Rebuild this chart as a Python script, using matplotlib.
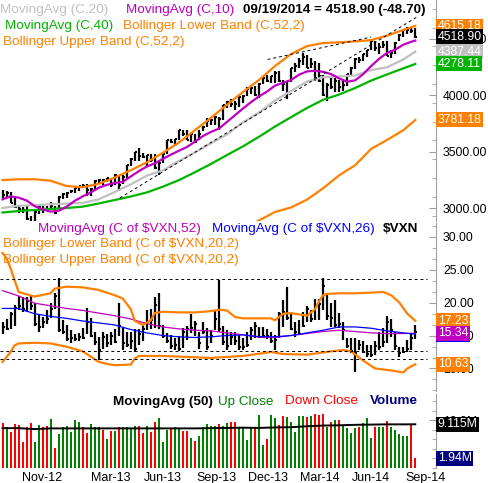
import numpy as np
import pandas as pd
import matplotlib
matplotlib.use('Agg')
import matplotlib.pyplot as plt
import matplotlib.dates as mdates
import matplotlib.transforms as mtransforms
from matplotlib.ticker import FixedLocator, FuncFormatter, NullFormatter

plt.rcParams['font.family'] = ['Liberation Sans', 'DejaVu Sans']

# --------------------------------------------------------------
# Data (weekly bars, Friday dates)
# --------------------------------------------------------------
weeks = pd.date_range('2012-09-28', periods=104, freq='7D')

price_high = [3160, 3150, 3140, 3100, 3020, 3010, 3030, 2930, 2970, 3020, 3020, 3022, 3050, 3020,
              3105, 3130, 3140, 3160, 3180, 3196, 3210, 3210, 3180, 3245, 3260, 3260, 3270, 3270,
              3300, 3290, 3290, 3380, 3440, 3500, 3530, 3490, 3470, 3480, 3480, 3410, 3480, 3600,
              3615, 3615, 3690, 3695, 3690, 3660, 3660, 3690, 3725, 3800, 3790, 3820, 3810, 3915,
              3950, 3970, 3950, 3990, 4000, 4070, 4070, 4080, 4110, 4160, 4180, 4175, 4215, 4220,
              4140, 4130, 4245, 4285, 4330, 4372, 4360, 4330, 4300, 4290, 4180, 4110, 4170, 4150,
              4140, 4140, 4190, 4250, 4330, 4340, 4370, 4400, 4490, 4480, 4460, 4485, 4485, 4400,
              4470, 4540, 4580, 4610, 4600, 4600]
price_low = [3085, 3098, 3040, 3000, 2960, 2960, 2895, 2810, 2860, 2950, 2960, 2970, 2980, 2950,
             2990, 3080, 3090, 3130, 3130, 3150, 3180, 3105, 3110, 3160, 3225, 3200, 3230, 3190,
             3200, 3150, 3210, 3270, 3370, 3420, 3420, 3440, 3370, 3410, 3350, 3290, 3400, 3480,
             3580, 3550, 3600, 3640, 3600, 3590, 3580, 3600, 3680, 3720, 3740, 3740, 3690, 3780,
             3890, 3900, 3870, 3900, 3930, 3990, 4010, 3990, 3980, 4100, 4120, 4110, 4110, 4120,
             4040, 3970, 4120, 4210, 4240, 4270, 4240, 4240, 4130, 4120, 3990, 3946, 4060, 4030,
             4030, 4040, 4080, 4180, 4230, 4290, 4300, 4340, 4400, 4390, 4370, 4420, 4350, 4330,
             4370, 4480, 4520, 4540, 4550, 4510]
price_close = [3116, 3136, 3044, 3005, 2987, 2982, 2904, 2853, 2967, 3010, 2978, 2971, 3021, 2960,
               3101, 3125, 3135, 3150, 3179, 3193, 3192, 3161, 3170, 3244, 3249, 3245, 3268, 3204,
               3294, 3207, 3279, 3378, 3437, 3499, 3459, 3456, 3469, 3423, 3357, 3403, 3479, 3600,
               3587, 3613, 3689, 3660, 3602, 3657, 3590, 3660, 3722, 3774, 3781, 3808, 3791, 3914,
               3943, 3922, 3919, 3985, 3991, 4059, 4062, 4000, 4104, 4156, 4131, 4174, 4197, 4128,
               4104, 4125, 4244, 4263, 4308, 4336, 4245, 4276, 4155, 4127, 3999, 4095, 4076, 4123,
               4071, 4090, 4185, 4243, 4321, 4310, 4368, 4398, 4486, 4416, 4432, 4449, 4352, 4371,
               4465, 4539, 4580, 4583, 4568, 4518.90]
close_before_first = 3180

# price overlays, sampled at week numbers
ma10_wk = list(range(0, 104, 2)) + [103]
ma10 = [3077, 3103, 3092, 3067, 3017, 2987, 2968, 2975, 3012, 3063, 3103, 3137, 3180, 3205,
        3222, 3232, 3280, 3327, 3368, 3396, 3436, 3473, 3508, 3541, 3588, 3638, 3675, 3704,
        3764, 3823, 3883, 3939, 3990, 4033, 4086, 4111, 4136, 4183, 4212, 4218, 4208, 4188,
        4150, 4120, 4133, 4188, 4260, 4325, 4377, 4405, 4449, 4475, 4486]
slow_wk = list(range(0, 104, 4)) + [103]
ma20 = [3000, 3020, 3025, 3033, 3040, 3045, 3077, 3142, 3209, 3287, 3334, 3417, 3492, 3574,
        3653, 3760, 3847, 3955, 4038, 4123, 4160, 4167, 4176, 4224, 4249, 4318, 4387.44]
ma40 = [2960, 2973, 2982, 2991, 3000, 3012, 3040, 3071, 3102, 3138, 3189, 3247, 3317, 3391,
        3470, 3547, 3632, 3723, 3806, 3888, 3960, 4007, 4065, 4131, 4186, 4239, 4278.11]
bb_upper = [3248, 3255, 3255, 3242, 3195, 3184, 3215, 3270, 3335, 3405, 3490, 3580, 3690, 3800,
            3916, 4029, 4136, 4260, 4366, 4437, 4464, 4470, 4478, 4490, 4530, 4580, 4615.18]
bb_lower_wk = [60, 64, 68, 72, 76, 80, 84, 88, 92, 96, 100, 103]
bb_lower = [2810, 2890, 2965, 3005, 3075, 3175, 3290, 3380, 3525, 3605, 3690, 3781.18]

# hand-drawn trend lines (date, value)
trend_low = (['2013-04-21', '2014-09-22'], [3089, 4695])
trend_high = (['2014-01-04', '2014-07-04'], [4318, 4517])

# $VXN weekly high / low / close
vxn_high = [17.0, 17.5, 18.5, 19.6, 21.0, 20.8, 20.8, 21.2, 20.0, 18.2, 17.8, 18.8, 20.0, 21.5,
            23.7, 17.3, 16.6, 15.8, 15.3, 15.4, 16.2, 19.2, 17.6, 15.6, 14.8, 15.5, 15.2, 15.6,
            16.0, 19.9, 16.2, 15.5, 15.6, 16.0, 16.0, 16.6, 18.8, 19.0, 20.9, 21.4, 16.6, 15.4,
            15.1, 14.6, 14.9, 16.1, 16.4, 18.3, 17.2, 15.6, 17.1, 16.1, 15.8, 18.9, 23.4, 16.5,
            15.8, 15.6, 15.6, 15.1, 14.6, 15.6, 16.3, 17.1, 16.3, 16.3, 16.0, 15.6, 15.1, 18.6,
            20.4, 22.4, 18.4, 17.1, 17.3, 18.6, 19.4, 18.9, 20.6, 20.6, 23.7, 21.4, 20.0, 20.4,
            18.4, 17.1, 14.6, 14.6, 14.6, 14.3, 14.1, 13.6, 13.6, 14.1, 15.6, 16.1, 17.9, 17.5,
            15.6, 13.3, 13.3, 14.3, 15.3, 16.6]
vxn_low = [15.3, 15.8, 16.0, 16.5, 18.8, 18.5, 18.6, 18.8, 16.5, 15.6, 16.2, 16.8, 17.6, 19.0,
           15.5, 15.2, 14.2, 13.8, 14.2, 14.2, 14.4, 15.2, 14.8, 13.6, 11.3, 13.0, 13.2, 13.6,
           13.8, 15.0, 12.8, 13.2, 12.9, 12.5, 13.6, 14.1, 15.8, 16.0, 16.2, 16.0, 14.6, 13.8,
           13.0, 12.8, 12.6, 13.1, 14.3, 15.4, 15.0, 13.0, 15.3, 12.8, 13.8, 15.8, 15.5, 13.6,
           12.8, 13.6, 13.6, 12.8, 12.8, 13.3, 14.3, 14.6, 14.6, 14.6, 14.4, 13.9, 12.8, 14.6,
           16.3, 17.3, 15.8, 14.8, 15.1, 16.3, 17.1, 17.1, 17.3, 17.3, 18.9, 17.4, 16.3, 16.3,
           16.1, 14.3, 13.1, 12.3, 9.5, 12.8, 12.3, 11.8, 11.8, 12.0, 12.8, 13.3, 13.8, 14.8,
           12.8, 11.8, 12.3, 12.5, 12.8, 14.5]
vxn_close = [16.3, 16.0, 18.2, 19.2, 19.5, 19.0, 20.2, 19.5, 16.8, 16.3, 17.0, 17.5, 19.0, 21.0,
             15.8, 15.6, 14.5, 14.6, 14.5, 14.8, 14.6, 17.0, 15.0, 14.0, 12.8, 14.8, 13.8, 15.0,
             14.0, 16.4, 13.8, 13.6, 14.2, 13.0, 15.2, 16.0, 17.0, 17.4, 19.6, 16.4, 15.0, 14.2,
             13.4, 13.6, 13.0, 15.6, 16.0, 16.2, 16.8, 13.8, 15.6, 13.2, 15.0, 17.5, 16.0, 14.0,
             13.4, 14.8, 14.2, 13.3, 13.3, 13.6, 15.8, 16.4, 14.8, 15.0, 15.0, 14.2, 14.3, 18.2,
             18.5, 17.6, 16.0, 15.6, 15.3, 16.5, 19.0, 17.5, 19.5, 19.8, 22.5, 17.9, 17.6, 16.6,
             16.8, 15.8, 13.4, 12.6, 12.4, 13.6, 12.5, 12.2, 12.0, 13.4, 13.3, 14.0, 17.0, 15.8,
             13.4, 12.3, 12.5, 13.0, 14.6, 15.6]

vxn_ma52 = [21.8, 21.0, 19.9, 19.5, 19.1, 18.8, 18.4, 18.0, 17.5, 16.8, 16.3, 16.0, 15.8, 15.7,
            15.4, 15.1, 14.8, 14.7, 15.0, 15.3, 15.6, 15.8, 15.6, 15.4, 15.3, 15.3, 15.34]
vxn_ma26 = [19.1, 19.1, 18.3, 17.9, 17.6, 17.2, 16.9, 16.6, 15.9, 15.4, 15.0, 14.8, 14.7, 14.8,
            15.0, 15.1, 14.8, 14.8, 15.0, 15.4, 15.8, 16.3, 16.3, 16.1, 15.7, 15.4, 15.2]
vxn_bbu_wk = [0, 1, 2, 3, 4, 8, 12, 13, 16, 20, 24, 28, 30, 32, 33, 35, 37, 38, 40, 44, 48, 52,
              54, 56, 58, 60, 64, 67, 68, 70, 72, 76, 78, 79, 80, 81, 84, 88, 92, 95, 97, 99,
              101, 103]
vxn_bbu = [27.5, 26.7, 25.2, 23.4, 21.6, 20.9, 21.4, 22.1, 22.4, 22.3, 21.9, 21.1, 20.6, 19.0,
           17.2, 16.6, 17.3, 18.4, 18.6, 18.5, 18.5, 18.7, 18.9, 18.8, 17.8, 17.6, 17.6, 17.6,
           17.3, 18.3, 18.4, 18.0, 19.0, 20.2, 21.1, 21.3, 21.4, 21.4, 21.5, 21.6, 21.1, 20.0,
           18.3, 17.23]
vxn_bbl_wk = [0, 2, 3, 4, 8, 12, 16, 20, 24, 26, 28, 32, 33, 34, 40, 48, 52, 60, 67, 70, 76, 82,
              85, 87, 90, 93, 97, 99, 100, 101, 103]
vxn_bbl = [11.0, 12.5, 13.5, 13.8, 13.9, 13.8, 13.3, 12.6, 11.0, 10.7, 10.5, 10.6, 11.5, 11.9,
           11.9, 11.7, 11.6, 11.9, 12.5, 12.2, 12.1, 12.6, 12.8, 12.6, 11.2, 10.0, 9.7, 9.5, 9.4,
           10.0, 10.63]
vxn_levels = [23.5, 12.65, 11.4]

# volume (millions)
volume = [9.46, 8.47, 7.56, 9.18, 8.97, 5.45, 8.62, 9.46, 5.45, 8.97, 8.47, 8.76, 10.16, 4.04,
          7.07, 8.47, 8.76, 7.56, 10.02, 9.53, 8.62, 7.35, 9.11, 8.62, 8.47, 7.91, 5.94, 7.70,
          7.70, 8.62, 8.62, 8.62, 8.40, 8.76, 8.76, 7.21, 8.76, 7.56, 9.53, 10.38, 5.45, 7.91,
          8.05, 8.62, 8.05, 7.70, 7.70, 6.29, 5.66, 6.65, 8.47, 9.18, 8.83, 8.76, 9.18, 8.76,
          9.46, 9.67, 9.67, 8.47, 8.47, 5.80, 8.47, 8.62, 11.08, 4.75, 5.94, 11.08, 10.38, 8.97,
          10.87, 10.73, 9.67, 7.56, 10.87, 10.87, 10.73, 10.87, 11.22, 11.08, 11.22, 8.62, 9.67,
          10.02, 10.02, 8.97, 8.26, 7.21, 8.26, 8.47, 9.32, 10.38, 6.15, 8.62, 8.62, 8.47, 9.88,
          8.62, 7.91, 7.07, 6.72, 6.72, 8.97, 1.94]
vol_ma50 = [8.3, 8.3, 8.1, 8.25, 8.25, 8.25, 8.25, 8.25, 8.25, 8.25, 8.25, 8.25, 8.25, 8.3,
            8.35, 8.4, 8.35, 8.45, 8.5, 8.7, 8.85, 8.9, 9.0, 9.05, 9.1, 9.1, 9.115]

month_ticks = ['2012-11-01', '2013-03-01', '2013-06-01', '2013-09-01',
               '2013-12-01', '2014-03-01', '2014-06-01', '2014-09-01']
month_labels = ['Nov-12', 'Mar-13', 'Jun-13', 'Sep-13', 'Dec-13', 'Mar-14', 'Jun-14', 'Sep-14']

# --------------------------------------------------------------
# Colours
# --------------------------------------------------------------
ORANGE = '#FF8000'
MAGENTA = '#C000C0'
SILVER = '#C0C0C0'
GREEN = '#00B400'
BLUE = '#0000FF'
UP = '#008000'
DOWN = '#FF0000'
NAVY = '#000080'

# --------------------------------------------------------------
# Figure / panels
# --------------------------------------------------------------
W, H = 489, 483
fig = plt.figure(figsize=(W / 100, H / 100), dpi=100)
aw = 436 / W
ax1 = fig.add_axes([0, 1 - 221 / H, aw, 221 / H])
ax2 = fig.add_axes([0, 1 - 391 / H, aw, 168 / H])
ax3 = fig.add_axes([0, 1 - 468 / H, aw, 74 / H])

xn = mdates.date2num(weeks)
x_left = mdates.date2num(pd.Timestamp('2012-09-23 14:00'))
x_right = x_left + 436 / 0.5725
tick_len = 3.5  # days, close tick


def to_x(wk):
    return xn[np.array(wk)]


def hlc(ax, hi, lo, cl):
    ax.vlines(xn, lo, hi, color='black', lw=1.6, zorder=2)
    ax.hlines(cl, xn, xn + tick_len, color='black', lw=1.5, zorder=2)


def tag(ax, y, text, fc, tc='white', z=10):
    tr = mtransforms.blended_transform_factory(ax.transAxes, ax.transData)
    ax.text(1.004, y, text, transform=tr, ha='left', va='center', fontsize=8.8, color=tc,
            bbox=dict(boxstyle='square,pad=0.12', fc=fc, ec='none'), clip_on=False, zorder=z)


for ax in (ax1, ax2, ax3):
    for s in ('top', 'left', 'bottom'):
        ax.spines[s].set_visible(False)
    ax.spines['right'].set_color('#A0A0A0')
    ax.yaxis.tick_right()
    ax.tick_params(axis='y', which='both', direction='in', colors='#A0A0A0',
                   labelcolor='black', labelsize=8.8, pad=5)
    ax.tick_params(axis='y', which='major', length=5)
    ax.tick_params(axis='y', which='minor', length=3)
    ax.tick_params(axis='x', which='both', bottom=False, labelbottom=False)
    ax.set_xlim(x_left, x_right)
    ax.patch.set_alpha(0)

# --------------------------------------------------------------
# Price panel
# --------------------------------------------------------------
hlc(ax1, price_high, price_low, price_close)
ax1.plot(to_x(slow_wk), ma40, color=GREEN, lw=1.6, zorder=3)
ax1.plot(to_x(slow_wk), ma20, color=SILVER, lw=1.6, zorder=3)
ax1.plot(to_x(ma10_wk), ma10, color=MAGENTA, lw=1.6, zorder=3)
ax1.plot(to_x(slow_wk), bb_upper, color=ORANGE, lw=1.6, zorder=3)
ax1.plot(to_x(bb_lower_wk), bb_lower, color=ORANGE, lw=1.6, zorder=3)
for dates, vals in (trend_low, trend_high):
    ax1.plot(mdates.date2num(pd.to_datetime(dates)), vals, color='black', lw=0.7,
             ls=(0, (3, 3)), zorder=4)

ax1.set_ylim(2884.7, 4845.6)
ax1.yaxis.set_major_locator(FixedLocator([3000, 3500, 4000, 4500]))
ax1.yaxis.set_minor_locator(FixedLocator(np.arange(2900, 4850, 500 / 3) + 100 / 3))
ax1.yaxis.set_major_formatter(FuncFormatter(lambda v, p: f'{v:.2f}'))

tag(ax1, bb_upper[-1], f'{bb_upper[-1]:.2f}', ORANGE)
tag(ax1, ma20[-1], f'{ma20[-1]:.2f}', SILVER)
tag(ax1, ma40[-1], f'{ma40[-1]:.2f}', GREEN)
tag(ax1, bb_lower[-1], f'{bb_lower[-1]:.2f}', ORANGE)
tag(ax1, price_close[-1], f'{price_close[-1]:.2f}', 'black', z=11)

# --------------------------------------------------------------
# VXN panel
# --------------------------------------------------------------
hlc(ax2, vxn_high, vxn_low, vxn_close)
ax2.hlines(vxn_levels, x_left, mdates.date2num(pd.Timestamp('2014-10-10')),
           colors='black', lw=0.7, linestyles=(0, (3, 3)), zorder=4)
ax2.plot(to_x(slow_wk), vxn_ma52, color=MAGENTA, lw=0.9, zorder=3)
ax2.plot(to_x(slow_wk), vxn_ma26, color=BLUE, lw=0.9, zorder=3)
ax2.plot(to_x(vxn_bbu_wk), vxn_bbu, color=ORANGE, lw=1.6, zorder=3)
ax2.plot(to_x(vxn_bbl_wk), vxn_bbl, color=ORANGE, lw=1.6, zorder=3)

ax2.set_ylim(6.59, 32.05)
ax2.yaxis.set_major_locator(FixedLocator([10, 15, 20, 25, 30]))
ax2.yaxis.set_minor_locator(FixedLocator(np.arange(5, 32, 5 / 3)))
ax2.yaxis.set_major_formatter(FuncFormatter(lambda v, p: f'{v:.2f}'))

tag(ax2, vxn_bbu[-1], f'{vxn_bbu[-1]:.2f}', ORANGE)
tag(ax2, vxn_ma26[-1], f'{vxn_ma26[-1]:.2f}', BLUE)
tag(ax2, vxn_ma52[-1], f'{vxn_ma52[-1]:.2f}', MAGENTA, z=11)
tag(ax2, vxn_bbl[-1], f'{vxn_bbl[-1]:.2f}', ORANGE)

# --------------------------------------------------------------
# Volume panel
# --------------------------------------------------------------
prev = [close_before_first] + price_close[:-1]
bar_cols = [UP if c >= p else DOWN for c, p in zip(price_close, prev)]
ax3.bar(xn, volume, width=3.5, color=bar_cols, zorder=2)
ax3.plot(to_x(slow_wk), vol_ma50, color='black', lw=1.4, zorder=3)

ax3.set_ylim(-0.1, 15.5)
ax3.yaxis.set_major_locator(FixedLocator([10]))
ax3.yaxis.set_minor_locator(FixedLocator(np.arange(0, 16, 2)))
ax3.yaxis.set_major_formatter(FuncFormatter(lambda v, p: f'{v:.1f}M'))
ax3.yaxis.set_minor_formatter(NullFormatter())

tag(ax3, vol_ma50[-1], f'{vol_ma50[-1]:.3f}M', 'black')
tag(ax3, volume[-1], f'{volume[-1]:.2f}M', NAVY)

ax3.set_xticks(mdates.date2num(pd.to_datetime(month_ticks)))
ax3.set_xticklabels(month_labels, ha='left')
ax3.tick_params(axis='x', which='both', length=0, labelbottom=True, labelsize=9, pad=3)

# --------------------------------------------------------------
# Legends (pixel positions from top-left)
# --------------------------------------------------------------
def label(x, y, s, color, bold=False):
    fig.text(x / W, 1 - y / H, s, color=color, fontsize=9.7, ha='left', va='baseline',
             fontweight='bold' if bold else 'normal')


label(0, 13, 'MovingAvg (C,20)', SILVER)
label(126, 13, 'MovingAvg (C,10)', MAGENTA)
label(243, 13, '09/19/2014 = 4518.90 (-48.70)', 'black', bold=True)
label(5, 29.5, 'MovingAvg (C,40)', GREEN)
label(123, 29.5, 'Bollinger Lower Band (C,52,2)', ORANGE)
label(3, 45.5, 'Bollinger Upper Band (C,52,2)', ORANGE)

label(38, 231.5, r'MovingAvg (C of \$VXN,52)', MAGENTA)
label(212, 231.5, r'MovingAvg (C of \$VXN,26)', BLUE)
label(383, 231.5, r'\$VXN', 'black', bold=True)
label(3, 247.5, r'Bollinger Lower Band (C of \$VXN,20,2)', ORANGE)
label(3, 263.5, r'Bollinger Upper Band (C of \$VXN,20,2)', ORANGE)

label(113, 404.5, 'MovingAvg (50)', 'black', bold=True)
label(218, 404.5, 'Up Close', UP)
label(285, 404.5, 'Down Close', DOWN)
label(370, 404.5, 'Volume', NAVY, bold=True)

fig.savefig('out.png', dpi=100)
